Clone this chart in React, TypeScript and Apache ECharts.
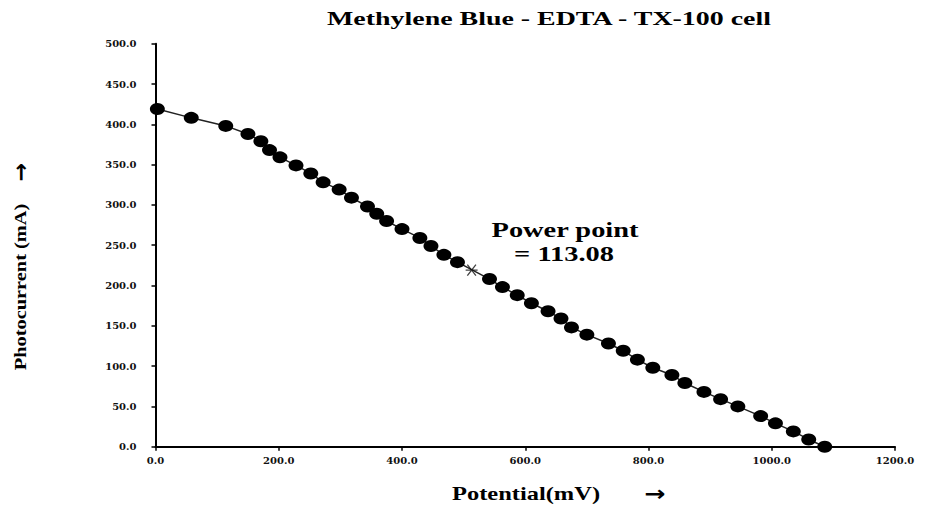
import React, { useEffect, useRef } from "react";
import * as echarts from "echarts";

// Potential (mV) and photocurrent (mA)
const potential = [3, 58, 114, 150, 171, 185, 202, 228, 252, 272, 298, 318, 344, 359, 375, 400, 429, 447, 468, 490, 542, 563, 587, 610, 637, 658, 675, 700, 735, 759, 782, 807, 838, 859, 890, 917, 945, 982, 1006, 1035, 1060, 1086];
const photocurrent = [419, 408, 398, 388, 379, 368, 359, 349, 339, 328, 319, 309, 298, 289, 280, 270, 259, 249, 238, 229, 208, 198, 188, 178, 168, 159, 148, 139, 128, 119, 108, 98, 89, 79, 68, 59, 50, 38, 29, 19, 9, 0];
const powerPointX = [513];
const powerPointY = [219];

const titleText = "Methylene Blue - EDTA - TX-100 cell";
const xAxisName = "Potential(mV)";
const yAxisName = "Photocurrent (mA)";
const arrow = "\u2192";
const annotationLines = ["Power point", "= 113.08"];

const xMin = 0, xMax = 1200, xStep = 200;
const yMin = 0, yMax = 500, yStep = 50;

const SERIF = '"Liberation Serif", "Times New Roman", serif';
const TICK_FONT = '"DejaVu Serif", serif';
const ARROW_FONT = '"DejaVu Sans", sans-serif';

export default function App() {
  const ref = useRef<HTMLDivElement>(null);
  useEffect(() => {
    if (!ref.current) return;
    const chart = echarts.init(ref.current, null, { renderer: "svg" });
    const lineData = potential.map((x, i) => [x, photocurrent[i]]);
    const ppData = powerPointX.map((x, i) => [x, powerPointY[i]]);
    chart.setOption({
      animation: false,
      backgroundColor: "#ffffff",
      grid: { left: 155.5, right: 49, top: 43.7, bottom: 59.3, containLabel: false },
      xAxis: {
        type: "value",
        min: xMin,
        max: xMax,
        interval: xStep,
        splitLine: { show: false },
        axisLine: { show: true, onZero: false, lineStyle: { color: "#000", width: 2 } },
        axisTick: { show: true, length: 4, lineStyle: { color: "#000", width: 1.5 } },
        axisLabel: {
          margin: 9,
          formatter: (v: number) => v.toFixed(1),
          fontFamily: TICK_FONT,
          fontWeight: "bold",
          fontSize: 10,
          color: "#111",
        },
      },
      yAxis: {
        type: "value",
        min: yMin,
        max: yMax,
        interval: yStep,
        splitLine: { show: false },
        axisLine: { show: true, onZero: false, lineStyle: { color: "#000", width: 2 } },
        axisTick: { show: true, length: 4, lineStyle: { color: "#000", width: 1.5 } },
        axisLabel: {
          margin: 19,
          formatter: (v: number) => v.toFixed(1),
          fontFamily: TICK_FONT,
          fontWeight: "bold",
          fontSize: 10,
          color: "#111",
        },
      },
      series: [
        {
          type: "line",
          data: lineData,
          clip: false,
          symbol: "circle",
          symbolSize: [15, 12],
          itemStyle: { color: "#000" },
          lineStyle: { color: "#222", width: 1.5 },
          z: 2,
        },
        {
          type: "scatter",
          data: ppData,
          symbol: "path://M0,0L10,10M10,0L0,10M-2,5L12,5",
          symbolSize: [12, 11],
          itemStyle: { color: "none", borderColor: "#111", borderWidth: 1.2 },
          z: 3,
        },
      ],
      graphic: [
        {
          type: "text",
          x: 549,
          y: 19,
          scaleX: 1.47,
          style: {
            text: titleText,
            fontFamily: SERIF,
            fontWeight: "bold",
            fontSize: 19,
            fill: "#000",
            align: "center",
            verticalAlign: "middle",
          },
        },
        {
          type: "text",
          x: 526,
          y: 494,
          scaleX: 1.36,
          style: {
            text: xAxisName,
            fontFamily: SERIF,
            fontWeight: "bold",
            fontSize: 18,
            fill: "#000",
            align: "center",
            verticalAlign: "middle",
          },
        },
        {
          type: "text",
          x: 655,
          y: 493,
          scaleX: 1.2,
          style: {
            text: arrow,
            fontFamily: ARROW_FONT,
            fontWeight: "bold",
            fontSize: 21,
            lineHeight: 21,
            fill: "#000",
            align: "center",
            verticalAlign: "middle",
          },
        },
        {
          type: "text",
          x: 20,
          y: 287,
          rotation: Math.PI / 2,
          scaleX: 1.2,
          style: {
            text: yAxisName,
            fontFamily: SERIF,
            fontWeight: "bold",
            fontSize: 17,
            fill: "#000",
            align: "center",
            verticalAlign: "middle",
          },
        },
        {
          type: "text",
          x: 20,
          y: 172,
          rotation: Math.PI / 2,
          style: {
            text: arrow,
            fontFamily: ARROW_FONT,
            fontWeight: "bold",
            fontSize: 22,
            fill: "#000",
            align: "center",
            verticalAlign: "middle",
          },
        },
        {
          type: "text",
          x: 565,
          y: 230,
          scaleX: 1.42,
          style: {
            text: annotationLines[0],
            fontFamily: SERIF,
            fontWeight: "bold",
            fontSize: 20,
            fill: "#000",
            align: "center",
            verticalAlign: "middle",
          },
        },
        {
          type: "text",
          x: 564,
          y: 254,
          scaleX: 1.42,
          style: {
            text: annotationLines[1],
            fontFamily: SERIF,
            fontWeight: "bold",
            fontSize: 20,
            fill: "#000",
            align: "center",
            verticalAlign: "middle",
          },
        },
      ],
    });
    return () => chart.dispose();
  }, []);
  return (
    <div
      ref={ref}
      style={{ position: "fixed", left: 0, top: 0, width: 944, height: 506, background: "#fff" }}
    />
  );
}
